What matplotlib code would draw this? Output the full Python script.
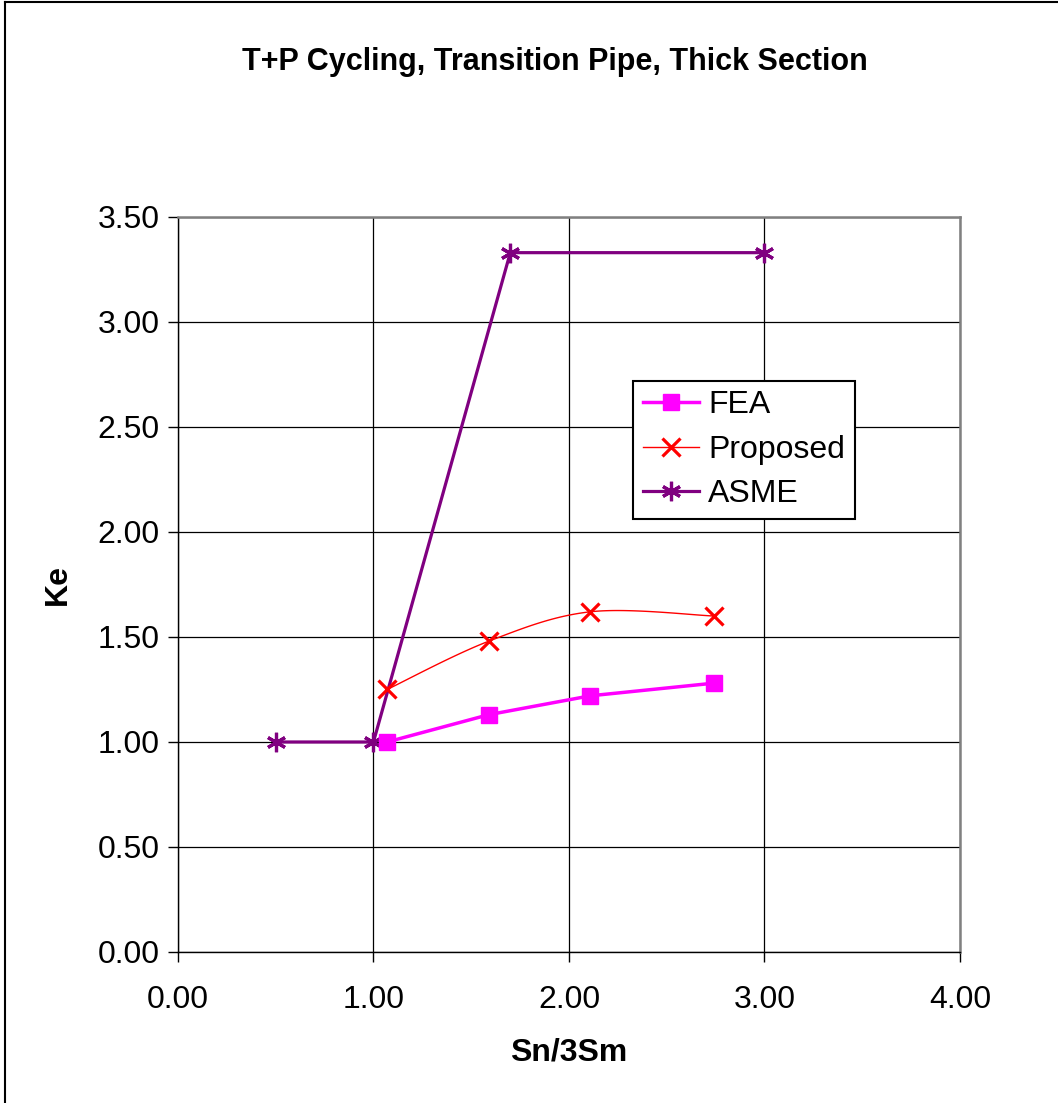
import numpy as np
import matplotlib.pyplot as plt
from matplotlib.lines import Line2D

plt.rcParams['font.family'] = ['Liberation Sans', 'DejaVu Sans']

# data
fea_x = [1.07, 1.59, 2.11, 2.74]
fea_y = [1.00, 1.13, 1.22, 1.28]
prop_x = [1.07, 1.59, 2.11, 2.74]
prop_y = [1.25, 1.48, 1.62, 1.60]
asme_x = [0.5, 1.0, 1.7, 3.0]
asme_y = [1.0, 1.0, 3.33, 3.33]
xticks = [0, 1, 2, 3, 4]
yticks = [0, 0.5, 1.0, 1.5, 2.0, 2.5, 3.0, 3.5]


def smooth(xs, ys, n=40):
    # Excel-like smoothed line: cubic bezier through points
    xs = np.asarray(xs, float)
    ys = np.asarray(ys, float)
    px = np.concatenate([[xs[0]], xs, [xs[-1]]])
    py = np.concatenate([[ys[0]], ys, [ys[-1]]])
    outx, outy = [], []
    t = np.linspace(0, 1, n)
    for i in range(1, len(px) - 2):
        p0 = np.array([px[i], py[i]])
        p3 = np.array([px[i + 1], py[i + 1]])
        p1 = p0 + (np.array([px[i + 1], py[i + 1]]) - np.array([px[i - 1], py[i - 1]])) / 6
        p2 = p3 - (np.array([px[i + 2], py[i + 2]]) - np.array([px[i], py[i]])) / 6
        b = ((1 - t) ** 3)[:, None] * p0 + (3 * (1 - t) ** 2 * t)[:, None] * p1 \
            + (3 * (1 - t) * t ** 2)[:, None] * p2 + (t ** 3)[:, None] * p3
        outx.extend(b[:, 0])
        outy.extend(b[:, 1])
    return outx, outy


fig = plt.figure(figsize=(10.58, 11.03), dpi=100)
ax = fig.add_axes([0.1682, 0.1369, 0.7391, 0.6664])

ax.plot(asme_x, asme_y, color='#800080', lw=2.3, marker=(6, 2, 0),
        ms=14, mew=2.3, zorder=3)
sx, sy = smooth(prop_x, prop_y)
ax.plot(sx, sy, color='red', lw=1, zorder=4)
ax.plot(prop_x, prop_y, color='red', lw=0, marker='x', ms=13, mew=2.3, zorder=4)
ax.plot(fea_x, fea_y, color='#ff00ff', lw=2.5, marker='s', ms=12, zorder=5)

ax.set_xlim(0, 4)
ax.set_ylim(0, 3.5)
ax.set_xticks(xticks)
ax.set_yticks(yticks)
ax.set_xticklabels(['%.2f' % v for v in xticks])
ax.set_yticklabels(['%.2f' % v for v in yticks])
ax.tick_params(axis='both', direction='out', length=7, width=1, labelsize=23)
ax.tick_params(axis='y', pad=6)
ax.tick_params(axis='x', pad=17)
ax.grid(True, color='black', lw=0.9)
ax.set_axisbelow(True)
for s in ['top', 'right']:
    ax.spines[s].set_color('#808080')
    ax.spines[s].set_linewidth(1.8)
for s in ['left', 'bottom']:
    ax.spines[s].set_color('black')
    ax.spines[s].set_linewidth(1.0)

ax.set_xlabel('Sn/3Sm', fontsize=23, fontweight='bold')
ax.set_ylabel('Ke', fontsize=23, fontweight='bold')
ax.xaxis.set_label_coords(0.5, -0.137)
ax.yaxis.set_label_coords(-0.153, 0.5)
ax.xaxis.label.set_va('center')
ax.yaxis.label.set_va('center')

fig.text(0.5246, 0.9438, 'T+P Cycling, Transition Pipe, Thick Section',
         fontsize=22, fontweight='bold', ha='center', va='center')

handles = [
    Line2D([], [], color='#ff00ff', lw=2.5, marker='s', ms=12),
    Line2D([], [], color='red', lw=1, marker='x', ms=13, mew=2.3),
    Line2D([], [], color='#800080', lw=2.3, marker=(6, 2, 0), ms=14, mew=2.3),
]
leg = ax.legend(handles, ['FEA', 'Proposed', 'ASME'], loc='upper left',
                bbox_to_anchor=(0.582, 0.777), borderaxespad=0, fontsize=23,
                fancybox=False, framealpha=1, edgecolor='black',
                handlelength=1.75, handletextpad=0.3, labelspacing=0.45,
                borderpad=0.3)
leg.get_frame().set_linewidth(1.5)

# outer chart border (left and top edges visible)
fig.add_artist(Line2D([0.005, 0.005], [0, 0.998], color='black', lw=1.5,
                      transform=fig.transFigure))
fig.add_artist(Line2D([0.005, 1], [0.998, 0.998], color='black', lw=1.5,
                      transform=fig.transFigure))

fig.savefig('out.png', dpi=100)
